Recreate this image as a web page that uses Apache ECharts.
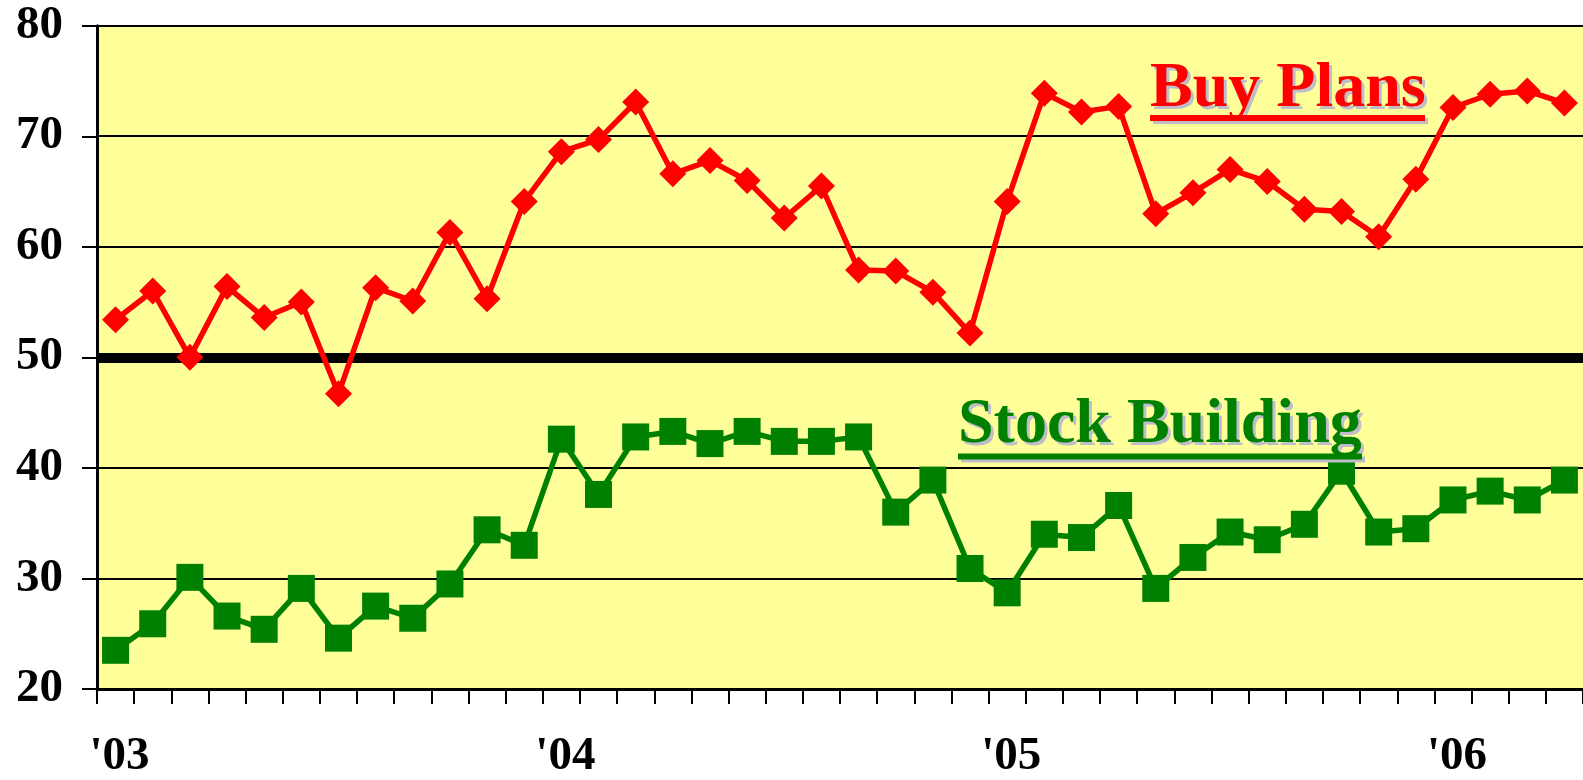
<!DOCTYPE html>
<html>
<head>
<meta charset="utf-8">
<script src="https://cdn.jsdelivr.net/npm/echarts@6/dist/echarts.min.js"></script>
<style>
html,body{margin:0;padding:0;background:#fff;}
#chart{width:1583px;height:780px;}
</style>
</head>
<body>
<div id="chart"></div>
<script>
const categories = [
  "Jan 03","Feb 03","Mar 03","Apr 03","May 03","Jun 03","Jul 03","Aug 03","Sep 03","Oct 03","Nov 03","Dec 03",
  "Jan 04","Feb 04","Mar 04","Apr 04","May 04","Jun 04","Jul 04","Aug 04","Sep 04","Oct 04","Nov 04","Dec 04",
  "Jan 05","Feb 05","Mar 05","Apr 05","May 05","Jun 05","Jul 05","Aug 05","Sep 05","Oct 05","Nov 05","Dec 05",
  "Jan 06","Feb 06","Mar 06","Apr 06"
];
const yearTickLabels = {"Jan 03":"'03","Jan 04":"'04","Jan 05":"'05","Jan 06":"'06"};
const buyPlans = [
  53.4,56.0,50.0,56.4,53.6,55.0,46.7,56.3,55.1,61.3,55.3,64.1,
  68.6,69.7,73.1,66.6,67.8,66.0,62.6,65.5,57.9,57.8,55.9,52.2,
  64.1,73.9,72.2,72.7,63.0,64.9,67.0,65.9,63.4,63.2,60.9,66.1,
  72.6,73.8,74.1,73.0
];
const stockBuilding = [
  23.5,25.9,30.1,26.6,25.4,29.1,24.6,27.5,26.4,29.5,34.4,33.0,
  42.6,37.6,42.8,43.3,42.2,43.3,42.4,42.4,42.8,36.0,38.9,30.9,
  28.7,34.0,33.7,36.6,29.1,31.9,34.2,33.5,34.9,39.7,34.2,34.5,
  37.1,37.9,37.1,38.9
];
const yMin = 20, yMax = 80, yStep = 10;
const thresholdValue = 50;
const seriesNames = ["Buy Plans","Stock Building"];

const FONT = "'Liberation Serif','Times New Roman',serif";
const chart = echarts.init(document.getElementById('chart'));

function shadowText(text, x, y, color) {
  return [
    {type:'text', z:100, silent:true, style:{text:text, x:x+3, y:y+3, fill:'#BEBECB', font:"bold 64px 'Liberation Serif'", verticalAlign:'top'}},
    {type:'text', z:101, silent:true, style:{text:text, x:x, y:y, fill:color, font:"bold 64px 'Liberation Serif'", verticalAlign:'top'}}
  ];
}
function underline(x, y, w, color) {
  return [
    {type:'rect', z:100, silent:true, shape:{x:x+3, y:y+3, width:w, height:6}, style:{fill:'#BEBECB'}},
    {type:'rect', z:101, silent:true, shape:{x:x, y:y, width:w, height:6}, style:{fill:color}}
  ];
}

const option = {
  animation: false,
  backgroundColor: '#ffffff',
  grid: {
    left: 97, right: -6, top: 25.7, bottom: 89.5,
    show: true, backgroundColor: '#FFFF99', borderWidth: 0
  },
  xAxis: {
    type: 'category',
    data: categories,
    boundaryGap: true,
    axisLine: {show:true, lineStyle:{color:'#000', width:3}},
    axisTick: {show:true, interval:0, length:15, lineStyle:{color:'#000', width:2}},
    axisLabel: {
      interval: function(i, v){ return yearTickLabels[v] !== undefined; },
      formatter: function(v){ return yearTickLabels[v] || ''; },
      fontFamily: FONT, fontWeight: 'bold', fontSize: 47, color: '#000', margin: 44,
      padding: [0,0,0,8]
    },
    splitLine: {show:false}
  },
  yAxis: {
    type: 'value',
    min: yMin, max: yMax, interval: yStep,
    axisLine: {show:true, lineStyle:{color:'#000', width:3}},
    axisTick: {show:true, length:15, lineStyle:{color:'#000', width:2}},
    axisLabel: {fontFamily: FONT, fontWeight: 'bold', fontSize: 47, color: '#000', margin: 34, padding:[5,0,0,0]},
    splitLine: {show:true, lineStyle:{color:'#000', width:2}}
  },
  series: [
    {
      name: seriesNames[0],
      type: 'line',
      data: buyPlans,
      symbol: 'diamond',
      symbolSize: 27,
      showAllSymbol: true,
      lineStyle: {color:'#FF0000', width:5.5},
      itemStyle: {color:'#FF0000'},
      z: 5,
      markLine: {
        silent: true,
        symbol: ['none','none'],
        label: {show:false},
        lineStyle: {color:'#000', width:10, type:'solid'},
        data: [{yAxis: thresholdValue}],
        z: 3
      }
    },
    {
      name: seriesNames[1],
      type: 'line',
      data: stockBuilding,
      symbol: 'rect',
      symbolSize: 27,
      showAllSymbol: true,
      lineStyle: {color:'#008000', width:5.5},
      itemStyle: {color:'#008000'},
      z: 5
    }
  ],
  graphic: [].concat(
    shadowText(seriesNames[0], 1150, 57.5, '#FF0000'),
    underline(1150, 115, 275, '#FF0000'),
    shadowText(seriesNames[1], 958, 393.5, '#008000'),
    underline(958, 453.5, 404, '#008000')
  )
};
chart.setOption(option);
</script>
</body>
</html>
